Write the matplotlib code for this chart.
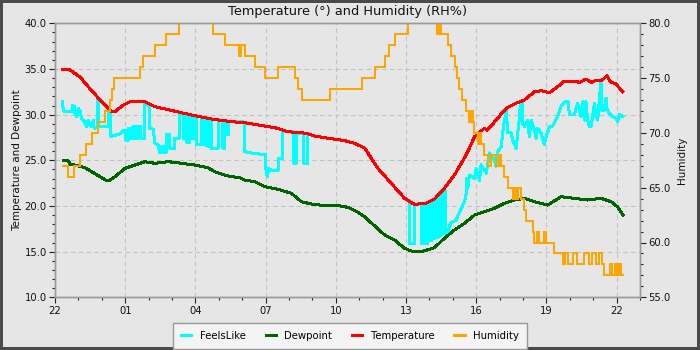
import matplotlib
matplotlib.use('Agg')
import matplotlib.pyplot as plt
from matplotlib.ticker import MultipleLocator, FormatStrFormatter

plt.rcParams['font.family'] = ['DejaVu Sans']

# ---------------- data (hours since 22:00) ----------------
x_tick_hours = [0, 3, 6, 9, 12, 15, 18, 21, 24]
x_tick_labels = ['22', '01', '04', '07', '10', '13', '16', '19', '22']

temp_hours = [0.34, 0.64, 1.07, 1.42, 1.99, 2.42, 2.56, 2.86, 3.20, 3.84,
              4.27, 4.91, 5.98, 6.69, 7.54, 8.11, 8.96, 9.52, 9.95, 10.74,
              11.10, 11.81, 12.38, 12.80, 13.23, 13.80, 14.37, 14.94, 15.36, 15.86,
              16.22, 16.64, 17.07, 17.57, 17.93, 18.35, 18.48, 18.85, 19.28, 19.70,
              20.06, 20.49, 20.77, 21.13, 21.48, 21.77, 22.27, 22.41, 22.69, 22.91,
              23.19, 23.39, 23.59, 23.73, 23.97, 24.26]
temp_values = [34.89, 34.89, 34.12, 33.06, 31.42, 30.32, 30.32, 30.95, 31.42, 31.42,
               30.87, 30.50, 29.88, 29.52, 29.23, 29.12, 28.76, 28.50, 28.13, 27.96,
               27.66, 27.36, 27.15, 26.86, 26.35, 24.12, 22.48, 20.84, 20.18, 20.29,
               20.76, 21.93, 23.39, 25.58, 27.58, 28.50, 28.30, 29.41, 30.69, 31.24,
               31.60, 32.51, 32.62, 32.40, 33.06, 33.68, 33.68, 33.50, 33.90, 33.54,
               33.79, 33.79, 34.26, 33.60, 33.35, 32.51]

dew_hours = [0.35, 0.55, 0.64, 0.85, 1.28, 1.57, 1.85, 2.21, 2.35, 2.56,
             2.99, 3.41, 3.84, 4.27, 4.84, 5.41, 5.98, 6.54, 6.83, 7.33,
             7.90, 8.11, 8.54, 8.96, 9.53, 10.10, 10.53, 10.96, 11.66, 11.95,
             12.52, 12.94, 13.23, 13.66, 14.09, 14.51, 14.94, 15.22, 15.65, 16.22,
             16.64, 17.07, 17.50, 17.93, 18.78, 19.21, 19.63, 20.06, 20.49, 21.05,
             21.63, 22.19, 22.76, 23.33, 23.76, 24.04, 24.28]
dew_values = [25.03, 25.03, 24.59, 24.48, 24.19, 23.75, 23.31, 22.77, 22.84, 23.20,
              24.12, 24.48, 24.85, 24.67, 24.85, 24.67, 24.48, 24.19, 23.75, 23.31,
              23.09, 22.84, 22.66, 22.11, 21.82, 21.39, 20.47, 20.21, 20.00, 20.10,
              19.85, 19.31, 18.82, 17.81, 16.82, 16.27, 15.36, 15.07, 14.99, 15.43,
              16.46, 17.37, 18.10, 19.01, 19.74, 20.29, 20.65, 20.84, 20.47, 20.10,
              21.01, 20.84, 20.65, 20.84, 20.47, 19.92, 19.01]

feels_hours = [
    0.31, 0.36, 0.73, 0.73, 0.85, 0.85, 0.93, 0.99, 1.07, 1.14,
    1.24, 1.35, 1.42, 1.49, 1.57, 1.64, 1.64, 1.71, 1.82, 1.82,
    1.86, 1.86, 2.27, 2.27, 2.39, 2.39, 2.77, 2.94, 3.03, 3.03,
    3.12, 3.12, 3.22, 3.22, 3.33, 3.33, 3.41, 3.41, 3.53, 3.53,
    3.67, 3.67, 3.84, 3.84, 4.03, 4.03, 4.20, 4.27, 4.40, 4.48,
    4.57, 4.57, 4.65, 4.65, 4.77, 4.77, 4.91, 4.91, 5.12, 5.12,
    5.31, 5.31, 5.48, 5.48, 5.55, 5.55, 5.61, 5.61, 5.76, 5.76,
    5.83, 5.83, 5.97, 5.97, 6.06, 6.06, 6.26, 6.26, 6.32, 6.32,
    6.40, 6.40, 6.47, 6.47, 6.62, 6.62, 6.69, 6.69, 6.97, 6.97,
    7.17, 7.17, 7.26, 7.26, 7.33, 7.33, 7.40, 7.40, 8.04, 8.11,
    8.11, 8.40, 9.00, 9.00, 9.07, 9.13, 9.26, 9.53, 9.53, 9.74,
    9.74, 10.20, 10.20, 10.32, 10.32, 10.61, 10.61, 10.81, 10.81, 11.10,
    11.81, 12.38, 12.80, 13.23, 13.80, 14.37, 14.94, 15.15, 15.15, 15.36,
    15.36, 15.66, 15.66, 15.75, 15.75, 15.84, 15.84, 15.93, 15.93, 16.00,
    16.00, 16.09, 16.09, 16.18, 16.18, 16.24, 16.24, 16.30, 16.30, 16.37,
    16.37, 16.43, 16.43, 16.50, 16.50, 16.56, 16.56, 16.64, 16.64, 16.70,
    16.70, 16.78, 16.90, 17.14, 17.29, 17.50, 17.57, 17.57, 17.64, 17.71,
    17.93, 18.00, 18.14, 18.21, 18.43, 18.57, 18.64, 18.78, 18.85, 18.92,
    19.07, 19.13, 19.21, 19.28, 19.35, 19.49, 19.56, 19.71, 19.85, 19.89,
    19.99, 19.99, 20.06, 20.20, 20.27, 20.35, 20.49, 20.56, 20.63, 20.77,
    20.91, 20.99, 21.13, 21.27, 21.48, 21.63, 21.77, 21.94, 21.98, 22.19,
    22.33, 22.48, 22.55, 22.62, 22.69, 22.76, 22.83, 22.91, 23.05, 23.12,
    23.19, 23.26, 23.33, 23.36, 23.47, 23.55, 23.59, 23.69, 23.83, 23.97,
    24.04, 24.12, 24.26]
feels_values = [
    31.4, 30.4, 30.3, 31.0, 30.9, 30.2, 29.8, 30.7, 30.4, 29.6,
    29.3, 28.7, 29.4, 28.9, 28.7, 29.4, 28.8, 28.5, 28.7, 31.6,
    31.6, 28.7, 28.7, 30.5, 30.5, 27.6, 27.9, 28.3, 28.3, 27.2,
    27.2, 28.5, 28.5, 27.4, 27.4, 28.7, 28.7, 27.4, 27.4, 28.7,
    28.7, 27.4, 27.4, 31.2, 31.0, 28.5, 28.4, 26.9, 26.7, 25.8,
    25.8, 26.5, 26.5, 25.9, 25.9, 27.8, 27.8, 26.3, 26.3, 27.4,
    27.4, 30.0, 30.0, 27.4, 27.4, 29.8, 29.8, 27.0, 26.9, 30.0,
    30.0, 27.4, 27.4, 29.8, 29.8, 26.7, 26.7, 29.6, 29.6, 26.7,
    26.7, 29.5, 29.5, 26.6, 26.5, 29.4, 29.4, 26.3, 26.3, 29.4,
    29.4, 26.3, 26.3, 29.2, 29.2, 27.8, 27.8, 29.2, 29.2, 29.05,
    25.95, 25.8, 25.6, 24.3, 23.2, 24.1, 23.9, 23.9, 25.2, 25.2,
    28.1, 28.1, 24.7, 24.7, 27.9, 27.9, 24.7, 24.7, 27.9, 27.66,
    27.36, 27.15, 26.86, 26.35, 24.12, 22.48, 20.84, 20.45, 15.9, 15.9,
    20.18, 20.25, 15.9, 15.9, 20.27, 20.29, 15.9, 15.9, 20.35, 20.4,
    16.2, 16.2, 20.5, 20.6, 16.4, 16.4, 20.8, 20.9, 16.6, 16.6,
    21.1, 21.2, 16.8, 16.8, 21.3, 21.4, 17.0, 17.0, 21.6, 21.6,
    17.2, 17.0, 18.1, 18.46, 19.3, 20.5, 21.3, 23.0, 21.9, 23.4,
    23.03, 24.1, 22.8, 24.5, 23.6, 25.8, 25.6, 25.0, 24.3, 25.9,
    26.5, 28.0, 29.4, 30.5, 28.0, 28.0, 27.2, 26.3, 29.8, 31.2,
    31.2, 29.05, 28.7, 29.4, 27.6, 29.4, 28.3, 27.4, 28.5, 28.0,
    26.7, 27.6, 28.7, 28.76, 29.8, 30.9, 31.4, 31.4, 29.96, 29.96,
    31.2, 29.8, 31.4, 29.4, 31.4, 29.4, 28.7, 28.7, 31.2, 29.8,
    29.4, 31.4, 33.8, 30.5, 30.5, 31.8, 30.7, 30.1, 29.8, 29.6,
    29.2, 30.0, 29.8]

hum_hours = [
    0.354, 0.568, 0.811, 1.067, 1.323, 1.566, 1.822, 2.134, 2.347, 2.446,
    2.531, 3.628, 3.769, 4.268, 4.725, 5.292, 5.420, 5.762, 6.402, 6.701,
    6.756, 7.286, 7.853, 7.960, 8.109, 8.566, 8.993, 9.531, 10.265, 10.385,
    10.555, 11.737, 13.133, 13.658, 14.084, 14.268, 14.511, 15.079, 15.194, 15.578,
    16.005, 16.282, 16.317, 16.389, 16.504, 16.816, 16.931, 17.093, 17.187, 17.285,
    17.384, 17.571, 17.712, 17.798, 17.853, 17.926, 18.067, 18.139, 18.212, 18.323,
    18.493, 18.651, 18.852, 18.993, 19.078, 19.206, 19.347, 19.590, 19.676, 19.761,
    19.804, 19.932, 20.030, 20.132, 20.414, 20.487, 20.615, 20.700, 20.913, 20.999,
    21.340, 21.694, 21.810, 21.938, 22.151, 22.322, 22.621, 22.834, 22.962, 23.133,
    23.261, 23.389, 23.474, 23.730, 23.815, 23.943, 24.029, 24.114, 24.199, 24.284]
hum_values = [
    67, 66, 67, 68, 69, 70, 71, 72, 73, 74,
    75, 76, 77, 78, 79, 80, 81, 82, 81, 80,
    79, 78, 77, 78, 77, 76, 75, 76, 75, 74,
    73, 74, 75, 76, 77, 78, 79, 80, 81, 82,
    81, 80, 79, 80, 79, 78, 77, 76, 75, 74,
    73, 72, 71, 72, 71, 70, 69, 70, 69, 68,
    67, 68, 67, 68, 67, 66, 65, 64, 65, 64,
    65, 64, 63, 62, 61, 60, 61, 60, 61, 60,
    59, 58, 59, 58, 59, 58, 59, 58, 59, 58,
    59, 58, 57, 58, 57, 58, 57, 58, 57, 57]

# ---------------- figure ----------------
BG = '#e6e6e6'
LW = 1.44
fig = plt.figure(figsize=(7, 3.5), dpi=100, facecolor=BG,
                 edgecolor='#4a4a4a', linewidth=4)
ax = fig.add_axes([55 / 700, 1 - 297.3 / 350, 585 / 700, 274 / 350])
ax.set_facecolor(BG)
ax2 = ax.twinx()

n = min(len(feels_hours), len(feels_values))
l1, = ax.plot(feels_hours[:n], feels_values[:n], color='#00ffff', lw=LW,
              label='FeelsLike', zorder=2, antialiased=False)
l2, = ax.plot(dew_hours, dew_values, color='#006400', lw=LW,
              label='Dewpoint', zorder=3, antialiased=False)
l3, = ax.plot(temp_hours, temp_values, color='#ff0000', lw=LW,
              label='Temperature', zorder=4, antialiased=False)
m = min(len(hum_hours), len(hum_values))
l4, = ax2.plot(hum_hours[:m], hum_values[:m], color='#ffa500', lw=LW,
               drawstyle='steps-post', label='Humidity', antialiased=False)

ax.set_xlim(0, 25)
ax.set_ylim(10, 40)
ax2.set_ylim(55, 80)

ax.set_xticks(x_tick_hours)
ax.set_xticklabels(x_tick_labels)
ax.xaxis.set_minor_locator(MultipleLocator(1))
for a in (ax, ax2):
    a.yaxis.set_major_locator(MultipleLocator(5))
    a.yaxis.set_minor_locator(MultipleLocator(1))
    a.yaxis.set_major_formatter(FormatStrFormatter('%.1f'))
    a.tick_params(which='major', length=4, width=0.8, color='#222222',
                  labelsize=7.2, labelcolor='#111111', pad=2)
    a.tick_params(which='minor', length=2.5, width=0.8, color='#222222')
    for s in a.spines.values():
        s.set_color('#9a9a9a')
        s.set_linewidth(1.0)

ax.grid(True, which='major', color='#c2c2c2', linestyle=(0, (4, 3)), linewidth=0.8)
ax.set_axisbelow(True)

ax.set_title('Temperature (°) and Humidity (RH%)', fontsize=9.3, pad=6, color='#111111')
ax.set_ylabel('Temperature and Dewpoint', fontsize=7.5, color='#111111')
ax2.set_ylabel('Humidity', fontsize=7.5, color='#111111')
ax.yaxis.set_label_coords(-0.0556, 0.5)
ax2.yaxis.set_label_coords(1.0624, 0.5)

leg = fig.legend([l1, l2, l3, l4], ['FeelsLike', 'Dewpoint', 'Temperature', 'Humidity'],
                 loc='lower center', bbox_to_anchor=(0.5, 0.003), ncol=4,
                 fontsize=7.3, frameon=True, fancybox=False, framealpha=1,
                 facecolor='#f4f4f4', edgecolor='#999999', handlelength=1.0,
                 handletextpad=0.8, columnspacing=2.0, borderaxespad=0,
                 borderpad=0.8)
for h in leg.get_lines():
    h.set_linewidth(2.0)
    h.set_antialiased(False)

fig.savefig('out.png', dpi=100, facecolor=fig.get_facecolor(),
            edgecolor=fig.get_edgecolor())
